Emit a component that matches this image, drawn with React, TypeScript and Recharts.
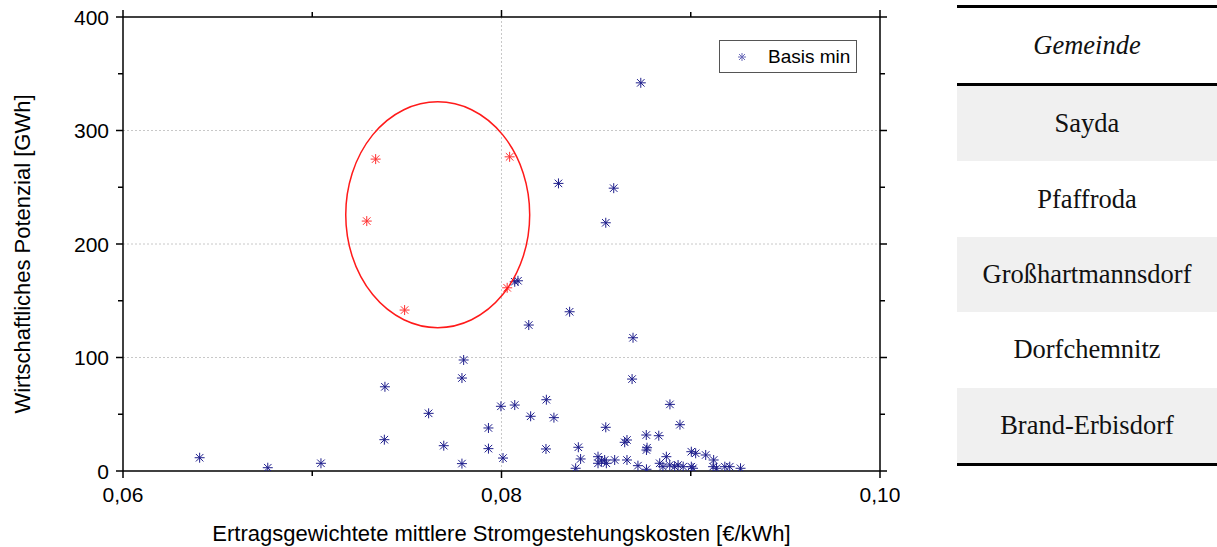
import React from "react";
import {
    ScatterChart,
    Scatter,
    XAxis,
    YAxis,
    CartesianGrid,
    ReferenceDot,
} from "recharts";

// Basis min (blue) points: cost [€/kWh] and potential [GWh]
const blueX = [
    0.06405, 0.06765, 0.07046, 0.07384, 0.07381, 0.07615, 0.07695, 0.078, 0.07791, 0.07791,
    0.07931, 0.07931, 0.08008, 0.07997, 0.0807, 0.0807, 0.08087, 0.08144, 0.0836, 0.08301,
    0.08593, 0.08551, 0.08736, 0.08695, 0.0869, 0.08237, 0.08154, 0.08277, 0.0889, 0.08943,
    0.08551, 0.08235, 0.08406, 0.08418, 0.08392, 0.08765, 0.08831, 0.08651, 0.08663, 0.08766,
    0.08769, 0.0851, 0.0851, 0.08528, 0.08545, 0.08554, 0.08598, 0.08663, 0.08721, 0.08766,
    0.08836, 0.08871, 0.08853, 0.08889, 0.08915, 0.08933, 0.0896, 0.09003, 0.09026, 0.09079,
    0.09121, 0.09003, 0.09012, 0.09118, 0.09136, 0.0918, 0.09206, 0.09263,
];
const blueY = [
    11.7, 2.9, 6.8, 74.2, 27.6, 50.8, 22.3, 97.8, 81.9, 6.5,
    37.9, 19.7, 11.4, 57, 58.1, 166.7, 167.6, 128.6, 140.3, 253.4,
    249.2, 218.7, 342, 117.4, 81, 62.8, 48.2, 47, 58.7, 40.8,
    38.5, 19.4, 20.9, 10.6, 2.4, 31.7, 31.1, 25.3, 27.3, 18.5,
    20.5, 12.6, 6.8, 8.8, 9.7, 6.8, 9.7, 9.7, 4.7, 1.5,
    6.8, 12.6, 3.8, 5.3, 3.8, 5.3, 3.8, 17, 15.6, 14.1,
    9.7, 3.8, 2.4, 3.8, 2.4, 3.8, 3.8, 2.4,
];

// highlighted (red) points
const redX = [0.07288, 0.07335, 0.07488, 0.08043, 0.0803];
const redY = [220.2, 274.8, 141.8, 276.8, 161.4];

// circled area: centre and half-axes in data units
const ELLIPSE = { x: 0.07663, y: 225.8, rx: 0.00486, ry: 99.5 };

const xTicks = [0.06, 0.07, 0.08, 0.09, 0.1];
const xLabeled = [0.06, 0.08, 0.1];
const yTicks = [0, 50, 100, 150, 200, 250, 300, 350, 400];
const yLabeled = [0, 100, 200, 300, 400];

const gemeinden = ["Sayda", "Pfaffroda", "Großhartmannsdorf", "Dorfchemnitz", "Brand-Erbisdorf"];

const blueData = blueX.map((x, i) => ({ x, y: blueY[i] }));
const redData = redX.map((x, i) => ({ x, y: redY[i] }));

const X_DOMAIN: [number, number] = [0.06, 0.1];
const Y_DOMAIN: [number, number] = [0, 400];

const CHART_W = 900;
const CHART_H = 547;
const LEFT_W = 123;
const RIGHT_W = 20;
const TOP_H = 17;
const BOTTOM_H = 76;
const PLOT_W = CHART_W - LEFT_W - RIGHT_W;
const PLOT_H = CHART_H - TOP_H - BOTTOM_H;

const FONT = "'Liberation Sans', Arial, sans-serif";
const TICK_FS = 21;
const TITLE_FS = 22;

function Asterisk({ cx, cy, color, s = 5 }: { cx: number; cy: number; color: string; s?: number }) {
    const d = s * 0.75;
    return (
        <g stroke={color} strokeWidth={1}>
            <line x1={cx} y1={cy - s} x2={cx} y2={cy + s} />
            <line x1={cx - s} y1={cy} x2={cx + s} y2={cy} />
            <line x1={cx - d} y1={cy - d} x2={cx + d} y2={cy + d} />
            <line x1={cx - d} y1={cy + d} x2={cx + d} y2={cy - d} />
        </g>
    );
}

const fmt = (v: number) => v.toFixed(2).replace(".", ",");

// eslint-disable-next-line @typescript-eslint/no-explicit-any
function BottomTick({ x, y, payload }: any) {
    const major = xLabeled.some((t) => Math.abs(t - payload.value) < 1e-9);
    return (
        <g>
            <line x1={x} x2={x} y1={y} y2={y + (major ? 7 : 5)} stroke="#000" strokeWidth={1.5} />
            {major && (
                <text x={x} y={y + 23} textAnchor="middle" dominantBaseline="central" fontSize={TICK_FS} fill="#000" fontFamily={FONT}>
                    {fmt(payload.value)}
                </text>
            )}
        </g>
    );
}

// eslint-disable-next-line @typescript-eslint/no-explicit-any
function TopTick({ x, y, payload }: any) {
    const major = xLabeled.some((t) => Math.abs(t - payload.value) < 1e-9);
    return <line x1={x} x2={x} y1={y} y2={y - (major ? 7 : 5)} stroke="#000" strokeWidth={1.5} />;
}

// eslint-disable-next-line @typescript-eslint/no-explicit-any
function LeftTick({ x, y, payload }: any) {
    const major = yLabeled.includes(payload.value);
    return (
        <g>
            <line x1={x} x2={x - (major ? 7 : 5)} y1={y} y2={y} stroke="#000" strokeWidth={1.5} />
            {major && (
                <text x={x - 14} y={y} textAnchor="end" dominantBaseline="central" fontSize={TICK_FS} fill="#000" fontFamily={FONT}>
                    {payload.value}
                </text>
            )}
        </g>
    );
}

// eslint-disable-next-line @typescript-eslint/no-explicit-any
function RightTick({ x, y, payload }: any) {
    const major = yLabeled.includes(payload.value);
    return <line x1={x} x2={x + (major ? 7 : 5)} y1={y} y2={y} stroke="#000" strokeWidth={1.5} />;
}

// eslint-disable-next-line @typescript-eslint/no-explicit-any
function EllipseShape({ cx, cy }: any) {
    const rx = (ELLIPSE.rx / (X_DOMAIN[1] - X_DOMAIN[0])) * PLOT_W;
    const ry = (ELLIPSE.ry / (Y_DOMAIN[1] - Y_DOMAIN[0])) * PLOT_H;
    return <ellipse cx={cx} cy={cy} rx={rx} ry={ry} fill="none" stroke="#ff1a1a" strokeWidth={1.5} />;
}

function Table() {
    const line = { height: 3, background: "#000" };
    return (
        <div style={{ position: "absolute", left: 957, top: 5, width: 260, fontFamily: "'Liberation Serif', 'Times New Roman', serif", fontSize: 26.5, color: "#111" }}>
            <div style={line} />
            <div style={{ height: 75, display: "flex", alignItems: "center", justifyContent: "center", fontStyle: "italic" }}>Gemeinde</div>
            <div style={line} />
            {gemeinden.map((g, i) => (
                <div
                    key={g}
                    style={{
                        height: 75.4,
                        display: "flex",
                        alignItems: "center",
                        justifyContent: "center",
                        background: i % 2 === 0 ? "#f0f0f0" : "#fff",
                        whiteSpace: "nowrap",
                    }}
                >
                    {g}
                </div>
            ))}
            <div style={line} />
        </div>
    );
}

export default function App() {
    return (
        <div style={{ position: "fixed", left: 0, top: 0, width: 1217, height: 547, background: "#fff", overflow: "hidden" }}>
            <ScatterChart width={CHART_W} height={CHART_H} margin={{ top: 0, right: 0, bottom: 0, left: 0 }} style={{ fontFamily: FONT }}>
                <CartesianGrid
                    xAxisId="b"
                    yAxisId="l"
                    horizontalValues={[100, 200, 300]}
                    verticalValues={[0.08]}
                    stroke="#c8c8c8"
                    strokeDasharray="2 2"
                />
                <XAxis
                    xAxisId="b"
                    type="number"
                    dataKey="x"
                    domain={X_DOMAIN}
                    allowDataOverflow
                    ticks={xTicks}
                    interval={0}
                    height={BOTTOM_H}
                    tickSize={0}
                    tickMargin={0}
                    tick={(p) => <BottomTick {...p} />}
                    axisLine={{ stroke: "#000", strokeWidth: 1.5 }}
                    label={{
                        content: (props: any) => {
                            const vb = props.viewBox;
                            return (
                                <text x={vb.x + vb.width / 2} y={vb.y + 62} textAnchor="middle" dominantBaseline="central" fontSize={TITLE_FS} fill="#000" fontFamily={FONT}>
                                    Ertragsgewichtete mittlere Stromgestehungskosten [€/kWh]
                                </text>
                            );
                        },
                    }}
                />
                <XAxis
                    xAxisId="t"
                    orientation="top"
                    type="number"
                    dataKey="x"
                    domain={X_DOMAIN}
                    allowDataOverflow
                    ticks={xTicks}
                    interval={0}
                    height={TOP_H}
                    tickSize={0}
                    tickMargin={0}
                    tick={(p) => <TopTick {...p} />}
                    axisLine={{ stroke: "#000", strokeWidth: 1.5 }}
                />
                <YAxis
                    yAxisId="l"
                    type="number"
                    dataKey="y"
                    domain={Y_DOMAIN}
                    allowDataOverflow
                    ticks={yTicks}
                    interval={0}
                    width={LEFT_W}
                    tickSize={0}
                    tickMargin={0}
                    tick={(p) => <LeftTick {...p} />}
                    axisLine={{ stroke: "#000", strokeWidth: 1.5 }}
                    label={{
                        content: (props: any) => {
                            const vb = props.viewBox;
                            const cy = vb.y + vb.height / 2 + 10;
                            return (
                                <text x={22} y={cy} transform={`rotate(-90 22 ${cy})`} textAnchor="middle" dominantBaseline="central" fontSize={TITLE_FS} fill="#000" fontFamily={FONT}>
                                    Wirtschaftliches Potenzial [GWh]
                                </text>
                            );
                        },
                    }}
                />
                <YAxis
                    yAxisId="r"
                    orientation="right"
                    type="number"
                    dataKey="y"
                    domain={Y_DOMAIN}
                    allowDataOverflow
                    ticks={yTicks}
                    interval={0}
                    width={RIGHT_W}
                    tickSize={0}
                    tickMargin={0}
                    tick={(p) => <RightTick {...p} />}
                    axisLine={{ stroke: "#000", strokeWidth: 1.5 }}
                />
                <Scatter
                    name="Basis min"
                    xAxisId="b"
                    yAxisId="l"
                    data={blueData}
                    isAnimationActive={false}
                    shape={(p: any) => <Asterisk cx={p.cx} cy={p.cy} color="#1e1e8c" />}
                />
                <Scatter
                    xAxisId="b"
                    yAxisId="l"
                    data={redData}
                    isAnimationActive={false}
                    shape={(p: any) => <Asterisk cx={p.cx} cy={p.cy} color="#ff3030" />}
                />
                <ReferenceDot
                    xAxisId="b"
                    yAxisId="l"
                    x={ELLIPSE.x}
                    y={ELLIPSE.y}
                    ifOverflow="visible"
                    shape={(p: any) => <EllipseShape {...p} />}
                />
            </ScatterChart>
            <div
                style={{
                    position: "absolute",
                    left: 719,
                    top: 40,
                    width: 138,
                    height: 33,
                    border: "1px solid #555",
                    boxSizing: "border-box",
                    background: "#fff",
                    display: "flex",
                    alignItems: "center",
                    fontFamily: FONT,
                    fontSize: 19,
                    color: "#000",
                }}
            >
                <svg width={44} height={30} style={{ flex: "none" }}>
                    <Asterisk cx={22} cy={15} color="#6a6ab8" s={4} />
                </svg>
                <span style={{ marginLeft: 4 }}>Basis min</span>
            </div>
            <Table />
        </div>
    );
}
